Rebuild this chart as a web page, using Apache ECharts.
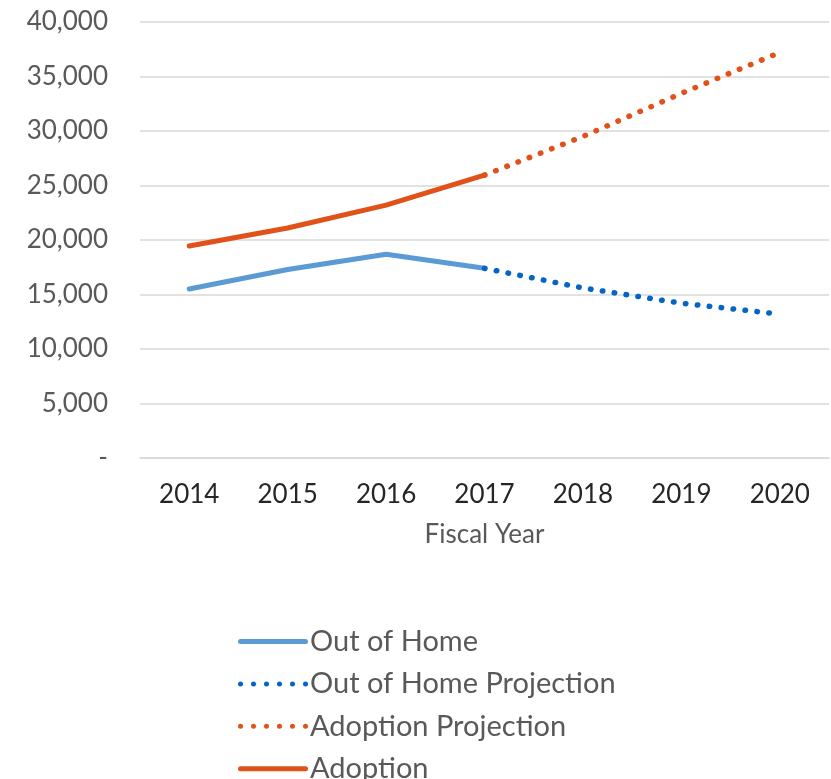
<!DOCTYPE html>
<html lang="en">
<head>
<meta charset="UTF-8">
<title>Out of Home and Adoption</title>
<script src="https://cdn.jsdelivr.net/npm/echarts@6/dist/echarts.min.js"></script>
<style>
html, body { margin: 0; padding: 0; background: #fff; }
#main { width: 831px; height: 779px; }
</style>
</head>
<body>
<div id="main"></div>
<script>
// data
let years = ['2014', '2015', '2016', '2017', '2018', '2019', '2020'];
let outOfHome = [15500, 17300, 18700, 17400, null, null, null];
let outOfHomeProj = [null, null, null, 17400, 15600, 14200, 13200];
let adoptionProj = [null, null, null, 25950, 29500, 33450, 37200];
let adoption = [19450, 21100, 23200, 25950, null, null, null];

let font = 'Lato, "Open Sans", sans-serif';

// legend icons: a round-ended bar and a row of six dots
let solidIcon = 'path://M2.5,0 H67.5 A2.5,2.5 0 0 1 67.5,5 H2.5 A2.5,2.5 0 0 1 2.5,0 Z';
let dotIcon = 'path://';
for (let i = 0; i < 6; i++) {
	let x = i * 13;
	dotIcon += 'M' + x + ',2.5 A2.5,2.5 0 1 0 ' + (x + 5) + ',2.5 A2.5,2.5 0 1 0 ' + x + ',2.5 Z ';
}

let chartDom = document.getElementById('main');
let myChart = echarts.init(chartDom);

function dotted(color) {
	return { color: color, width: 5.5, type: [0.5, 11.5], cap: 'round' };
}

let option = {
	animation: false,
	grid: { left: 140, right: 2, top: 22, bottom: 321 },
	legend: {
		orient: 'vertical',
		left: 233,
		top: 622,
		height: 220,
		itemWidth: 70,
		itemHeight: 5,
		itemGap: 13.4,
		textStyle: { fontFamily: font, fontSize: 29, color: '#595959', padding: [0, 0, 0, -3] },
		data: [
			{ name: 'Out of Home', icon: solidIcon },
			{ name: 'Out of Home Projection', icon: dotIcon },
			{ name: 'Adoption Projection', icon: dotIcon },
			{ name: 'Adoption', icon: solidIcon }
		]
	},
	xAxis: {
		type: 'category',
		data: years,
		boundaryGap: true,
		name: 'Fiscal Year',
		nameLocation: 'middle',
		nameGap: 64,
		nameTextStyle: { fontFamily: font, fontSize: 26, color: '#595959' },
		axisLine: { lineStyle: { color: '#d9d9d9', width: 1.5 } },
		axisTick: { show: false },
		axisLabel: { fontFamily: font, fontSize: 26, color: '#262626', margin: 24 }
	},
	yAxis: {
		type: 'value',
		min: 0,
		max: 40000,
		interval: 5000,
		splitLine: { lineStyle: { color: '#d9d9d9', width: 1.5 } },
		axisLine: { show: false },
		axisTick: { show: false },
		axisLabel: {
			fontFamily: font, fontSize: 26, color: '#595959', margin: 32,
			formatter: function (v) { return v === 0 ? '-' : v.toLocaleString('en-US'); }
		}
	},
	series: [
		{ name: 'Out of Home', type: 'line', data: outOfHome, symbol: 'none', color: '#5b9bd5',
		  lineStyle: { color: '#5b9bd5', width: 5, cap: 'round' } },
		{ name: 'Out of Home Projection', type: 'line', data: outOfHomeProj, symbol: 'none', color: '#0565c4',
		  lineStyle: dotted('#0565c4') },
		{ name: 'Adoption Projection', type: 'line', data: adoptionProj, symbol: 'none', color: '#e0521a',
		  lineStyle: dotted('#e0521a') },
		{ name: 'Adoption', type: 'line', data: adoption, symbol: 'none', color: '#e0521a',
		  lineStyle: { color: '#e0521a', width: 5, cap: 'round' } }
	]
};

option && myChart.setOption(option);
</script>
</body>
</html>
